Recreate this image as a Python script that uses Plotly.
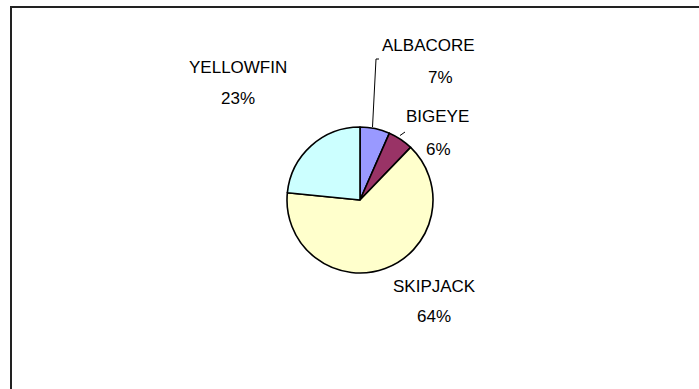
import plotly.graph_objects as go

W, H = 699, 389

species = ["ALBACORE", "BIGEYE", "SKIPJACK", "YELLOWFIN"]
catch_share = [6.6, 5.6, 64.4, 23.4]
slice_colors = ["#9999FF", "#993366", "#FFFFCC", "#CCFFFF"]

# label positions in pixels (name line, percent line)
name_pos = [(428, 45), (437, 117), (434, 286), (238, 68)]
pct_pos = [(440, 77), (438, 149), (434, 316), (238, 99)]


def fx(x):
    return x / W


def fy(y):
    return 1 - y / H


cx, cy, r = 360, 200, 73

fig = go.Figure(
    go.Pie(
        labels=species,
        values=catch_share,
        sort=False,
        direction="clockwise",
        rotation=0,
        marker=dict(colors=slice_colors, line=dict(color="black", width=1.6)),
        textinfo="none",
        hoverinfo="label+percent",
        domain=dict(x=[fx(cx - r), fx(cx + r)], y=[fy(cy + r), fy(cy - r)]),
        showlegend=False,
    )
)

total = sum(catch_share)
annotations = []
font = dict(family="Liberation Sans, Arial, sans-serif", size=17, color="black")
for name, v, (nx, ny), (px_, py_) in zip(species, catch_share, name_pos, pct_pos):
    annotations.append(dict(x=fx(nx), y=fy(ny), xref="paper", yref="paper",
                            text=name, showarrow=False, font=font,
                            xanchor="center", yanchor="middle"))
    annotations.append(dict(x=fx(px_), y=fy(py_), xref="paper", yref="paper",
                            text=f"{round(v / total * 100)}%", showarrow=False, font=font,
                            xanchor="center", yanchor="middle"))

shapes = [
    # chart frame (runs off right and bottom)
    dict(type="rect", xref="paper", yref="paper", x0=fx(11), y0=fy(420), x1=fx(740), y1=fy(7),
         line=dict(color="#222222", width=2), fillcolor="rgba(0,0,0,0)"),
    # leader lines
    dict(type="path", xref="paper", yref="paper",
         path=f"M {fx(372.5)} {fy(127)} L {fx(376)} {fy(59)} L {fx(379)} {fy(59)}",
         line=dict(color="black", width=1)),
    dict(type="line", xref="paper", yref="paper", x0=fx(400), y0=fy(135.5), x1=fx(405), y1=fy(132),
         line=dict(color="black", width=1)),
]

fig.update_layout(
    width=W, height=H,
    margin=dict(l=0, r=0, t=0, b=0),
    paper_bgcolor="white", plot_bgcolor="white",
    annotations=annotations, shapes=shapes,
)

fig.write_html("out.html")
